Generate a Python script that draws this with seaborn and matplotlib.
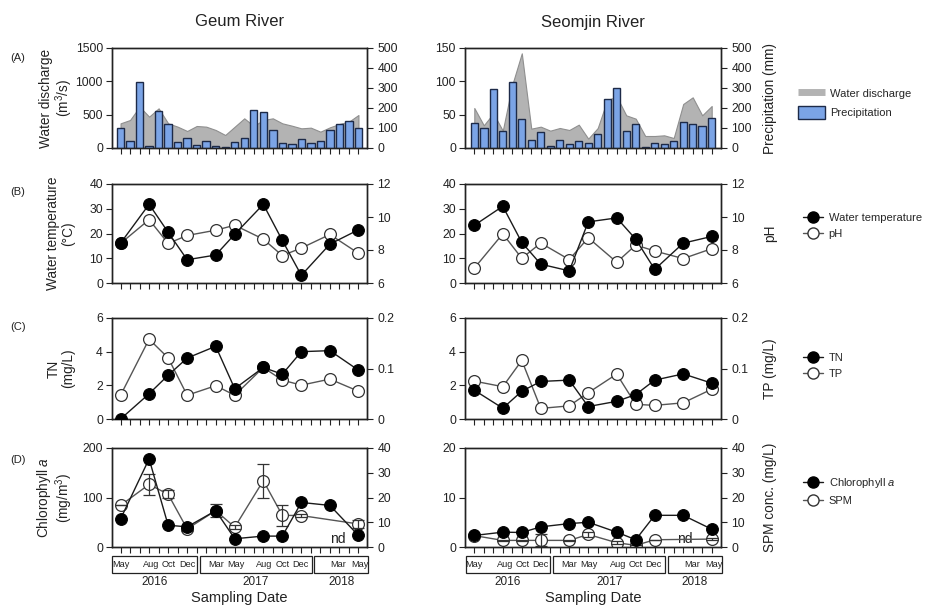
import numpy as np
import pandas as pd
import matplotlib
matplotlib.use("Agg")
import matplotlib.pyplot as plt
import matplotlib.transforms as mtransforms
from matplotlib.patches import Rectangle, Patch
from matplotlib.lines import Line2D
import seaborn as sns

sns.set_style("ticks")
plt.rcParams["font.family"] = ["Liberation Sans", "DejaVu Sans"]
plt.rcParams["mathtext.fontset"] = "custom"
plt.rcParams["mathtext.rm"] = "Liberation Sans"
plt.rcParams["mathtext.it"] = "Liberation Sans:italic"

# ---------------- data ----------------
month_idx = list(range(26))                      # monthly positions (May 2016 ...)
sample_idx = [0, 3, 5, 7, 10, 12, 15, 17, 19, 22, 25]
spm_idx = [0, 3, 5, 7, 10, 12, 15, 17, 19, 25]   # SPM 'nd' in Mar 2018

# Geum River
g_discharge = [370, 420, 620, 470, 595, 370, 320, 255, 330, 320, 270, 195, 320,
               445, 330, 420, 445, 370, 335, 295, 305, 245, 310, 360, 395, 495]
g_precip = [102, 35, 330, 8, 186, 119, 30, 50, 13, 35, 8, 3, 30,
            50, 191, 180, 89, 25, 18, 45, 23, 35, 92, 119, 136, 99]
g_temp = [16.1, 31.8, 20.5, 9.4, 11.3, 19.7, 31.8, 17.2, 3.1, 15.7, 21.5]
g_ph = [8.4, 9.84, 8.4, 8.88, 9.2, 9.5, 8.66, 7.66, 8.12, 8.94, 7.8]
g_tn = [0.0, 1.5, 2.6, 3.62, 4.32, 1.8, 3.06, 2.66, 4.0, 4.06, 2.9]
g_tp = [0.047, 0.158, 0.121, 0.047, 0.066, 0.047, 0.102, 0.077, 0.067, 0.079, 0.055]
g_chl = [56.7, 178, 44, 40.7, 73.3, 16.7, 22, 22, 90, 84, 23.3]
g_spm = [16.8, 25.3, 21.3, 7.3, 14.7, 8.0, 26.8, 12.8, 12.7, 9.3]
g_spm_err = [0, 4.1, 1.7, 1.0, 2.5, 0.8, 6.9, 4.3, 0.5, 1.8]

# Seomjin River
s_discharge = [60, 34, 52, 26, 95, 142, 29, 32, 26, 30, 27, 35, 14,
               30, 72, 77, 49, 44, 18, 18, 19, 15, 66, 76, 49, 63]
s_precip = [127, 100, 297, 85, 330, 147, 38, 78, 8, 42, 20, 37, 27,
            72, 243, 302, 83, 122, 3, 27, 20, 37, 132, 122, 112, 152]
s_temp = [23.3, 31.0, 16.4, 7.6, 4.9, 24.7, 26.3, 17.7, 5.5, 16.1, 18.8]
s_ph = [6.9, 8.98, 7.5, 8.42, 7.42, 8.74, 7.26, 8.3, 7.94, 7.48, 8.08]
s_tn = [1.71, 0.64, 1.65, 2.23, 2.31, 0.74, 1.05, 1.45, 2.31, 2.68, 2.13]
s_tp = [0.075, 0.064, 0.116, 0.021, 0.026, 0.052, 0.089, 0.029, 0.027, 0.032, 0.059]
s_chl = [2.33, 3.0, 2.93, 4.07, 4.73, 5.0, 3.0, 1.47, 6.4, 6.4, 3.6]
s_spm = [4.6, 2.67, 2.67, 2.67, 2.67, 5.07, 1.73, 0.67, 2.93, 3.2]
s_spm_err = [0, 0.3, 0.3, 2.4, 0.3, 1.0, 0.5, 0, 0, 0.3]

month_labels = ["May", "Aug", "Oct", "Dec", "Mar", "May", "Aug", "Oct", "Dec", "Mar", "May"]
month_label_pos = [0, 3.2, 5.1, 7, 10, 12.1, 15.1, 17, 18.9, 22.9, 25.2]
years = ["2016", "2017", "2018"]
year_boxes = [(-0.9, 8.0), (8.3, 20.1), (20.35, 26.05)]

# ---------------- layout ----------------
W, H = 934, 609
fig = plt.figure(figsize=(W / 100, H / 100), dpi=100)


def add_ax(l, t, r, b):
    return fig.add_axes([l / W, 1 - b / H, (r - l) / W, (b - t) / H])


cols = {"G": (112, 367), "S": (465, 721)}
rows = {"A": (48, 148), "B": (184, 283), "C": (318, 419), "D": (448, 547)}
xlims = {"G": (-0.9, 25.9), "S": (-0.98, 25.98)}

TICK_FS = 8.8
LAB_FS = 9.8
BLUE = "#7ba4e6"
BLUE_EDGE = "#1d2a48"
GREY = "#b3b3b3"
GREY_EDGE = "#8f8f8f"
INK = "#222222"


def style(ax, ax2, col):
    ax.set_xlim(*xlims[col])
    ax.set_xticks(month_idx)
    ax.set_xticklabels([])
    ax.set_xlabel("")
    ax2.set_xlabel("")
    for a in (ax, ax2):
        for sp in a.spines.values():
            sp.set_visible(True)
            sp.set_linewidth(1.0)
            sp.set_color(INK)
    ax.tick_params(axis="x", which="both", direction="out", length=4, width=0.8,
                   color=INK, top=False, bottom=True)
    ax.tick_params(axis="y", direction="out", length=4.5, width=0.8, pad=2,
                   labelsize=TICK_FS, color=INK, labelcolor=INK)
    ax2.tick_params(axis="y", direction="out", length=4.5, width=0.8, pad=3,
                    labelsize=TICK_FS, color=INK, labelcolor=INK)


def line(ax, x, y, filled):
    if filled:
        sns.lineplot(x=x, y=y, ax=ax, color="#1a1a1a", lw=1.0, marker="o",
                     markersize=8.5, markerfacecolor="black",
                     markeredgecolor="black", sort=False, zorder=4)
    else:
        sns.lineplot(x=x, y=y, ax=ax, color="#555555", lw=1.0, marker="o",
                     markersize=8.5, markerfacecolor="white",
                     markeredgecolor="#333333", markeredgewidth=0.9,
                     sort=False, zorder=4)


datasets = {
    "G": dict(dis=g_discharge, pre=g_precip, temp=g_temp, ph=g_ph, tn=g_tn, tp=g_tp,
              chl=g_chl, spm=g_spm, spm_err=g_spm_err),
    "S": dict(dis=s_discharge, pre=s_precip, temp=s_temp, ph=s_ph, tn=s_tn, tp=s_tp,
              chl=s_chl, spm=s_spm, spm_err=s_spm_err),
}

axes = {}
for col, (l, r) in cols.items():
    d = datasets[col]
    # ---- (A) discharge + precipitation
    t, b = rows["A"]
    ax = add_ax(l, t, r, b)
    ax2 = ax.twinx()
    ax.fill_between(month_idx, 0, d["dis"], color=GREY, edgecolor=GREY_EDGE,
                    lw=0.8, zorder=1)
    dfp = pd.DataFrame({"month": month_idx, "precip": d["pre"]})
    sns.barplot(data=dfp, x="month", y="precip", ax=ax2, native_scale=True,
                color=BLUE, edgecolor=BLUE_EDGE, linewidth=1.0, width=0.78,
                saturation=1, errorbar=None)
    if col == "G":
        ax.set_ylim(0, 1500)
        ax.set_yticks([0, 500, 1000, 1500])
    else:
        ax.set_ylim(0, 150)
        ax.set_yticks([0, 50, 100, 150])
    ax2.set_ylim(0, 500)
    ax2.set_yticks([0, 100, 200, 300, 400, 500])
    style(ax, ax2, col)
    ax.set_ylabel("")
    ax2.set_ylabel("")
    axes[(col, "A")] = (ax, ax2)

    # ---- (B) temperature + pH
    t, b = rows["B"]
    ax = add_ax(l, t, r, b)
    ax2 = ax.twinx()
    line(ax2, sample_idx, d["ph"], False)
    line(ax, sample_idx, d["temp"], True)
    ax.set_ylim(0, 40)
    ax.set_yticks([0, 10, 20, 30, 40])
    ax2.set_ylim(6, 12)
    ax2.set_yticks([6, 8, 10, 12])
    ax.set_zorder(ax2.get_zorder() + 1)
    ax.patch.set_visible(False)
    style(ax, ax2, col)
    ax.set_ylabel("")
    ax2.set_ylabel("")
    axes[(col, "B")] = (ax, ax2)

    # ---- (C) TN + TP
    t, b = rows["C"]
    ax = add_ax(l, t, r, b)
    ax2 = ax.twinx()
    line(ax2, sample_idx, d["tp"], False)
    line(ax, sample_idx, d["tn"], True)
    ax.set_ylim(0, 6)
    ax.set_yticks([0, 2, 4, 6])
    ax2.set_ylim(0, 0.2)
    ax2.set_yticks([0, 0.1, 0.2])
    ax2.set_yticklabels(["0", "0.1", "0.2"])
    ax.set_zorder(ax2.get_zorder() + 1)
    ax.patch.set_visible(False)
    style(ax, ax2, col)
    ax.set_ylabel("")
    ax2.set_ylabel("")
    axes[(col, "C")] = (ax, ax2)

    # ---- (D) chlorophyll a + SPM
    t, b = rows["D"]
    ax = add_ax(l, t, r, b)
    ax2 = ax.twinx()
    line(ax2, spm_idx, d["spm"], False)
    ax2.errorbar(spm_idx, d["spm"], yerr=d["spm_err"], fmt="none",
                 ecolor="#333333", elinewidth=0.9, capsize=4, capthick=0.9,
                 zorder=5)
    line(ax, sample_idx, d["chl"], True)
    if col == "G":
        ax.set_ylim(0, 200)
        ax.set_yticks([0, 100, 200])
        ax2.text(22.8, 3.2, "nd", fontsize=10, ha="center", va="center",
                 color=INK)
    else:
        ax.set_ylim(0, 20)
        ax.set_yticks([0, 10, 20])
        ax2.text(22.2, 3.4, "nd", fontsize=10, ha="center", va="center",
                 color=INK)
    ax2.set_ylim(0, 40)
    ax2.set_yticks([0, 10, 20, 30, 40])
    ax.set_zorder(ax2.get_zorder() + 1)
    ax.patch.set_visible(False)
    style(ax, ax2, col)
    ax.set_ylabel("")
    ax2.set_ylabel("")
    axes[(col, "D")] = (ax, ax2)

    # date boxes
    trans = mtransforms.blended_transform_factory(ax.transData, ax.transAxes)
    for (x0, x1), yr in zip(year_boxes, years):
        ax.add_patch(Rectangle((x0, -0.265), x1 - x0, 0.172, transform=trans,
                               fill=False, lw=0.9, edgecolor=INK,
                               clip_on=False))
        ax.text((x0 + x1) / 2, -0.35, yr, transform=trans, ha="center",
                va="center", fontsize=8.5, color=INK)
    for xp, lab in zip(month_label_pos, month_labels):
        ax.text(xp, -0.18, lab, transform=trans, ha="center", va="center",
                fontsize=6.6, color=INK)
    ax.text(0.5, -0.515, "Sampling Date", transform=ax.transAxes, ha="center",
            va="center", fontsize=10.5, color=INK)

# ---------------- labels ----------------
left_labels = {"A": "Water discharge\n(m$^3$/s)", "B": "Water temperature\n(°C)",
               "C": "TN\n(mg/L)", "D": "Chlorophyll $\\mathit{a}$\n(mg/m$^3$)"}
right_labels = {"A": "Precipitation (mm)", "B": "pH", "C": "TP (mg/L)",
                "D": "SPM conc. (mg/L)"}
for row in "ABCD":
    ax, _ = axes[("G", row)]
    ax.set_ylabel(left_labels[row], fontsize=LAB_FS, color=INK,
                  linespacing=1.05)
    ax.yaxis.set_label_coords(-0.145, 0.5)
    _, ax2 = axes[("S", row)]
    ax2.set_ylabel(right_labels[row], fontsize=LAB_FS, color=INK)
    ax2.yaxis.set_label_coords(1.165, 0.5)

for row, y in zip("ABCD", [58, 192, 327, 460]):
    fig.text(10 / W, 1 - y / H, f"({row})", fontsize=8, ha="left", va="center",
             color=INK)

fig.text(240 / W, 1 - 22 / H, "Geum River", fontsize=12, ha="center",
         va="center", color=INK)
fig.text(593 / W, 1 - 22 / H, "Seomjin River", fontsize=12, ha="center",
         va="center", color=INK)

# ---------------- legends ----------------
leg_kw = dict(loc="center left", frameon=False, fontsize=8, handletextpad=0.5,
              labelspacing=0.55, borderpad=0, borderaxespad=0)
h_dis = Line2D([], [], color=GREY, lw=5, solid_capstyle="butt")
h_pre = Patch(facecolor=BLUE, edgecolor=BLUE_EDGE, lw=1.0)
fig.legend([h_dis, h_pre], ["Water discharge", "Precipitation"],
           bbox_to_anchor=(798 / W, 1 - 103 / H), handlelength=2.4,
           handleheight=1.4, **leg_kw)


def pt_handles():
    hf = Line2D([], [], color="#1a1a1a", lw=1.0, marker="o", markersize=8,
                markerfacecolor="black", markeredgecolor="black")
    ho = Line2D([], [], color="#555555", lw=1.0, marker="o", markersize=8,
                markerfacecolor="white", markeredgecolor="#333333")
    return [hf, ho]


for labs, yc in [(["Water temperature", "pH"], 226), (["TN", "TP"], 366),
                 (["Chlorophyll $\\mathit{a}$", "SPM"], 491)]:
    fig.legend(pt_handles(), labs, bbox_to_anchor=(803 / W, 1 - yc / H),
               handlelength=1.8, **leg_kw)

fig.savefig("out.png", dpi=100)
